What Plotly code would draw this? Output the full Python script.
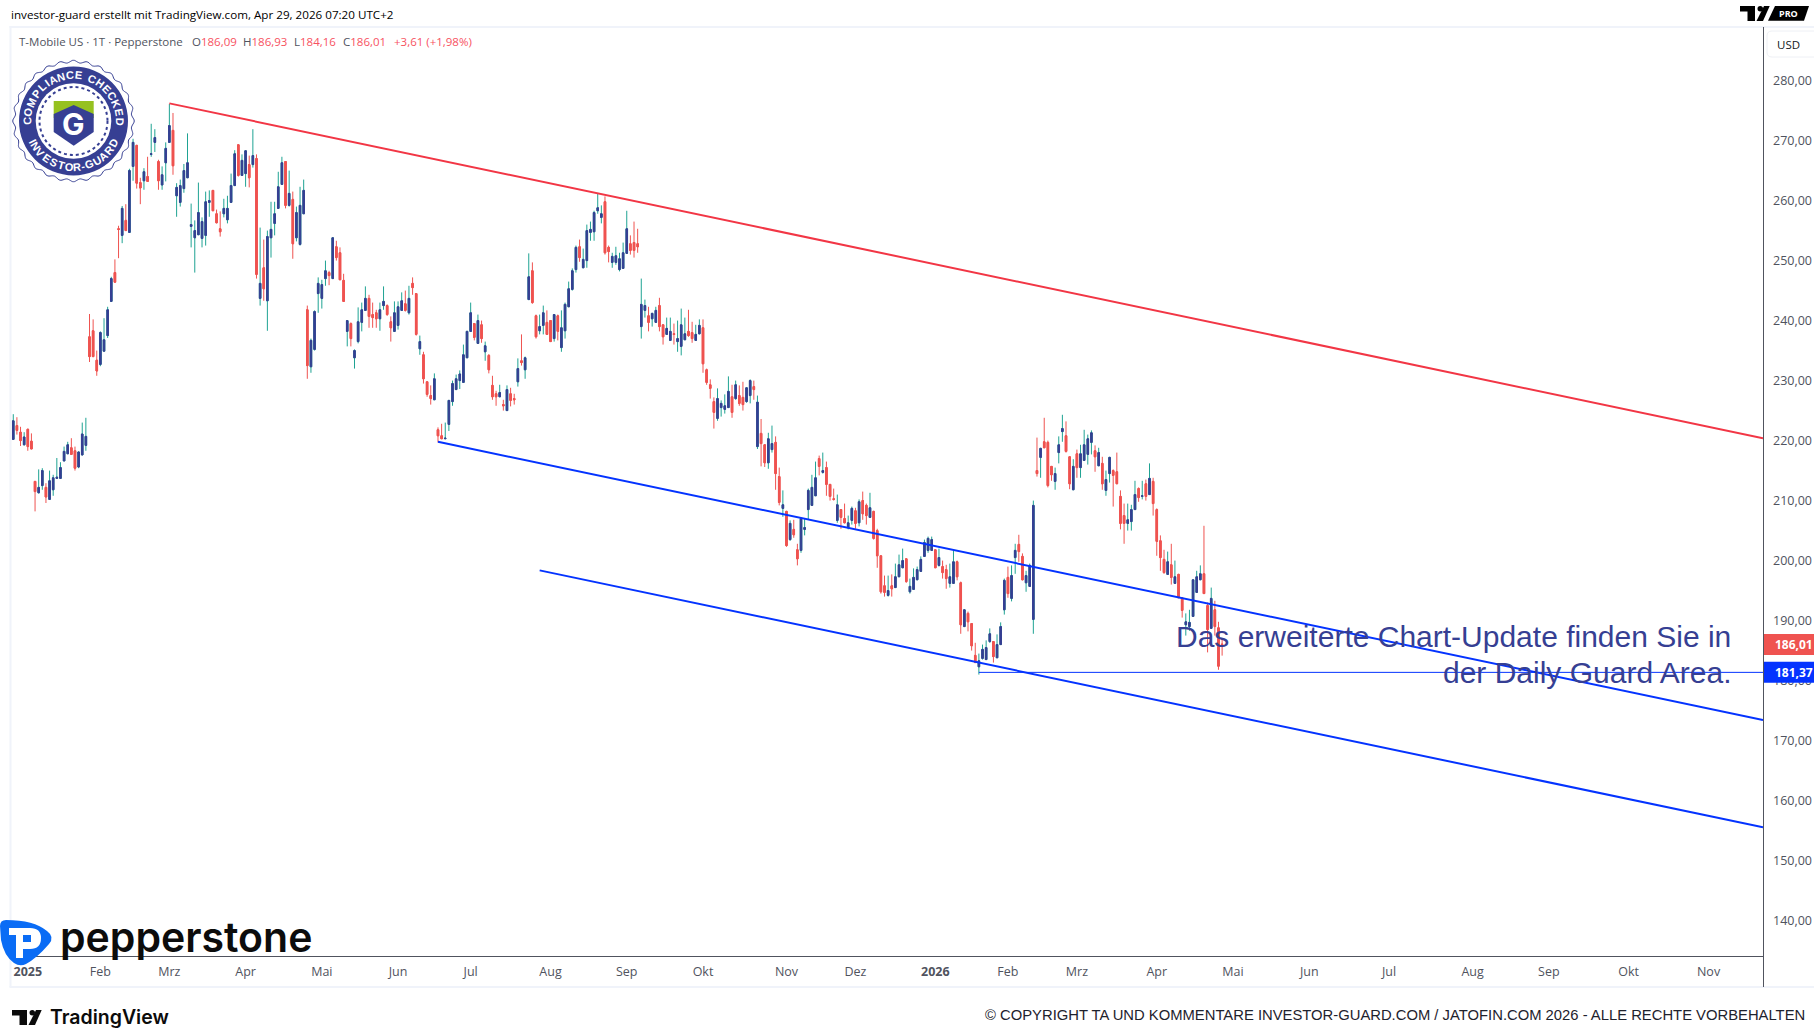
import numpy as np
import plotly.graph_objects as go

# values, bar by bar (T-Mobile US, Pepperstone)
opens = [
    220.2, 222.5, 221.4, 219.3, 221.9, 219.9, 213.2, 211.3, 212.5, 212.2,
    210.2, 211.8, 213.7, 213.7, 216.6, 217.8, 218.8, 218.3, 215.6, 217.6,
    219.2, 237.3, 238.3, 233.4, 232.7, 234.9, 237.5, 243.2, 248.0, 255.3,
    254.2, 256.7, 254.7, 265.7, 269.2, 263.0, 263.3, 264.0, 267.7, 269.7,
    266.5, 262.6, 266.3, 269.7, 271.7, 260.8, 259.7, 262.0, 263.8, 255.7,
    253.8, 254.3, 253.7, 254.2, 259.7, 261.7, 257.8, 255.3, 257.8, 256.8,
    259.7, 262.5, 269.3, 264.2, 264.5, 266.0, 266.0, 267.0, 243.7, 248.8,
    243.3, 253.8, 256.2, 258.7, 262.7, 266.5, 259.2, 260.2, 253.8, 252.7,
    257.8, 241.8, 232.3, 235.2, 244.5, 243.7, 247.0, 248.0, 247.0, 252.3,
    251.3, 246.7, 238.2, 239.5, 233.8, 236.5, 239.7, 241.7, 243.7, 241.0,
    241.3, 240.3, 242.5, 242.5, 239.8, 238.2, 239.2, 241.7, 242.8, 241.3,
    246.2, 244.5, 235.3, 234.3, 229.8, 227.5, 226.8, 221.8, 220.8, 220.3,
    222.7, 226.5, 228.5, 230.0, 229.7, 233.8, 238.2, 239.5, 236.2, 239.3,
    234.8, 234.2, 229.2, 227.8, 227.3, 226.0, 225.0, 227.8, 227.0, 229.8,
    233.3, 231.8, 243.5, 248.3, 240.8, 238.3, 239.2, 239.7, 240.0, 237.0,
    240.8, 235.5, 238.3, 242.3, 245.2, 248.5, 252.3, 248.8, 250.0, 254.7,
    254.8, 258.3, 257.2, 259.8, 252.2, 249.7, 249.7, 248.5, 248.7, 251.2,
    252.8, 253.0, 252.8, 239.0, 241.7, 240.8, 240.3, 239.7, 242.5, 239.3,
    237.7, 236.7, 237.8, 236.5, 235.7, 236.8, 238.2, 238.0, 236.7, 237.8,
    238.8, 231.8, 229.3, 226.5, 223.7, 225.5, 225.2, 225.5, 227.3, 227.0,
    227.5, 227.2, 226.5, 227.5, 229.0, 219.0, 221.2, 219.3, 216.3, 218.5,
    219.7, 214.0, 208.7, 208.2, 203.5, 205.2, 201.8, 201.7, 205.2, 208.5,
    209.2, 210.8, 217.0, 214.7, 215.5, 212.7, 210.3, 206.7, 208.5, 207.0,
    205.5, 206.7, 208.3, 206.3, 210.0, 209.2, 207.2, 208.2, 205.0, 200.8,
    195.8, 194.2, 195.8, 195.5, 197.3, 198.8, 200.3, 194.8, 195.2, 196.8,
    198.2, 200.7, 201.7, 201.7, 201.8, 199.2, 199.0, 198.5, 196.2, 196.2,
    199.8, 196.3, 189.0, 191.2, 189.5, 184.2, 182.3, 183.7, 183.5, 186.5,
    186.5, 183.8, 186.0, 191.8, 197.2, 193.7, 200.5, 202.7, 200.7, 196.3,
    195.7, 190.2, 215.0, 217.2, 219.8, 219.7, 215.7, 213.2, 218.0, 221.5,
    220.8, 217.3, 211.8, 217.8, 215.5, 216.7, 217.7, 219.7, 218.3, 215.8,
    216.2, 211.7, 214.5, 215.0, 214.8, 210.7, 207.5, 206.2, 206.5, 208.5,
    212.0, 210.7, 212.8, 211.0, 213.2, 208.5, 203.3, 200.2, 197.7, 199.3,
    196.2, 197.7, 193.8, 189.3, 189.0, 190.7, 194.7, 196.8, 197.8, 192.5,
    188.7, 191.8, 188.8, 186.09,
]
highs = [
    224.4, 223.9, 222.3, 221.4, 221.9, 221.2, 213.2, 215.2, 215.4, 212.9,
    215.0, 214.3, 217.1, 216.4, 219.0, 219.8, 220.4, 219.0, 218.2, 223.0,
    223.8, 241.1, 240.2, 235.0, 238.2, 240.4, 242.3, 247.3, 250.2, 255.8,
    259.1, 259.4, 265.3, 270.3, 269.3, 263.8, 265.4, 267.3, 272.8, 271.9,
    266.8, 265.7, 269.7, 276.1, 274.6, 262.9, 263.5, 266.1, 271.2, 259.5,
    256.7, 263.0, 257.2, 261.5, 261.7, 261.7, 258.5, 258.2, 260.3, 260.8,
    264.5, 268.4, 269.3, 267.7, 268.3, 267.5, 271.9, 267.7, 255.5, 253.5,
    255.0, 259.8, 259.8, 264.8, 267.3, 266.5, 265.0, 261.5, 259.0, 262.3,
    263.5, 242.5, 237.0, 241.7, 247.2, 246.8, 250.0, 248.3, 253.8, 253.3,
    252.2, 247.8, 240.0, 239.7, 235.2, 242.2, 243.0, 245.7, 244.3, 243.0,
    241.8, 243.0, 245.7, 242.7, 240.7, 243.2, 243.2, 244.7, 245.0, 245.8,
    247.2, 244.5, 237.5, 234.8, 229.8, 229.2, 231.2, 222.2, 222.8, 223.0,
    226.7, 230.0, 231.0, 231.7, 236.0, 238.3, 243.0, 239.5, 241.0, 240.0,
    236.5, 234.4, 230.8, 228.3, 229.3, 226.8, 229.2, 228.8, 227.8, 233.7,
    237.7, 234.0, 251.2, 249.7, 241.0, 241.0, 242.5, 241.7, 240.0, 241.0,
    241.0, 241.7, 243.0, 246.5, 248.7, 252.5, 253.5, 252.0, 256.0, 256.5,
    258.3, 261.2, 259.2, 260.7, 252.5, 251.3, 252.3, 251.3, 253.0, 258.3,
    254.2, 256.5, 255.3, 247.0, 243.5, 242.3, 241.3, 242.3, 243.8, 239.3,
    240.5, 240.5, 239.5, 240.0, 242.0, 240.5, 241.8, 239.8, 239.3, 240.2,
    240.2, 232.0, 230.2, 227.2, 228.7, 226.7, 227.7, 230.7, 229.3, 230.0,
    229.2, 229.8, 228.8, 230.2, 230.0, 227.5, 223.6, 219.3, 221.3, 222.5,
    220.7, 215.5, 211.7, 208.3, 206.7, 206.8, 202.8, 207.2, 207.0, 212.0,
    214.3, 216.5, 217.5, 218.0, 216.5, 212.7, 212.0, 211.0, 208.5, 209.5,
    207.5, 209.0, 208.8, 210.2, 211.5, 209.5, 211.3, 208.3, 205.3, 200.8,
    197.5, 197.5, 197.7, 199.5, 201.0, 202.0, 200.3, 197.0, 198.7, 199.0,
    200.7, 203.5, 204.0, 204.0, 201.8, 202.0, 200.0, 199.3, 199.5, 201.8,
    200.0, 196.5, 191.8, 191.5, 189.5, 186.3, 184.5, 186.0, 186.7, 188.7,
    186.5, 187.7, 189.7, 197.0, 199.0, 199.2, 202.8, 204.3, 201.2, 198.3,
    199.5, 210.0, 220.5, 218.8, 223.8, 220.0, 215.7, 215.5, 220.7, 224.3,
    223.2, 217.3, 216.9, 218.5, 219.3, 221.8, 221.0, 221.7, 219.2, 218.8,
    217.3, 215.0, 217.3, 215.2, 218.0, 211.7, 209.5, 209.5, 209.3, 213.3,
    212.2, 213.3, 213.5, 216.2, 213.8, 208.7, 204.2, 201.8, 201.5, 202.8,
    200.0, 197.8, 193.8, 191.2, 191.8, 196.8, 198.3, 199.2, 205.8, 193.0,
    195.5, 193.3, 189.8, 186.93,
]
lows = [
    220.2, 221.0, 219.1, 219.2, 218.3, 218.6, 208.2, 211.2, 211.8, 209.6,
    210.2, 210.8, 213.7, 213.7, 216.6, 217.8, 217.7, 215.0, 215.4, 217.6,
    218.3, 233.1, 233.9, 230.8, 232.4, 234.9, 237.1, 243.1, 246.4, 250.4,
    252.9, 255.0, 254.7, 263.3, 262.0, 259.4, 261.8, 263.1, 267.3, 268.1,
    261.8, 261.8, 263.2, 269.7, 264.3, 257.3, 259.0, 261.3, 263.8, 252.2,
    248.0, 254.3, 252.2, 252.5, 257.3, 258.3, 256.2, 254.0, 257.2, 256.2,
    259.7, 262.5, 264.0, 264.2, 262.3, 262.2, 265.5, 247.0, 242.5, 243.3,
    238.3, 250.5, 254.2, 258.7, 262.7, 258.7, 259.0, 250.3, 253.2, 252.5,
    257.8, 230.3, 231.3, 235.0, 241.3, 242.0, 245.8, 245.9, 247.0, 250.0,
    246.8, 243.2, 235.7, 235.7, 232.0, 236.2, 238.2, 241.7, 238.8, 238.8,
    238.8, 238.3, 241.8, 240.8, 236.5, 238.2, 238.5, 241.7, 241.5, 241.0,
    244.3, 237.5, 234.3, 229.5, 227.3, 226.0, 226.8, 219.7, 220.3, 220.3,
    221.6, 225.8, 228.5, 228.6, 229.7, 233.8, 238.2, 236.7, 236.2, 236.3,
    233.3, 231.2, 226.8, 225.8, 227.3, 225.0, 225.0, 225.7, 226.0, 229.0,
    232.5, 230.3, 243.5, 242.8, 237.0, 237.7, 237.7, 237.7, 236.5, 236.5,
    236.7, 234.8, 237.0, 242.3, 245.0, 248.0, 249.8, 248.8, 248.8, 253.3,
    253.3, 257.8, 256.2, 251.0, 249.7, 248.8, 249.3, 248.2, 248.7, 251.2,
    251.0, 250.5, 251.3, 237.0, 240.5, 238.2, 239.0, 239.7, 238.2, 236.0,
    237.7, 236.7, 236.0, 234.8, 234.2, 236.8, 237.3, 236.3, 236.7, 237.7,
    231.3, 229.3, 227.0, 222.0, 223.3, 224.0, 224.5, 225.5, 223.8, 226.8,
    225.8, 225.0, 226.3, 226.2, 226.8, 218.6, 215.7, 215.6, 215.3, 218.0,
    211.8, 209.2, 207.3, 202.3, 203.3, 203.8, 199.2, 201.3, 204.2, 206.8,
    209.2, 210.8, 214.2, 214.5, 210.8, 210.0, 210.0, 206.3, 205.3, 206.2,
    205.2, 206.0, 205.3, 205.7, 206.8, 206.0, 207.2, 203.5, 198.8, 194.5,
    194.0, 194.0, 194.0, 195.5, 197.3, 198.8, 196.3, 194.5, 195.2, 196.8,
    198.2, 200.7, 201.3, 201.7, 198.8, 199.0, 197.0, 195.3, 195.5, 196.2,
    196.7, 187.8, 189.0, 188.2, 185.0, 183.0, 181.0, 183.5, 183.5, 186.3,
    183.0, 183.8, 186.0, 191.0, 193.8, 193.2, 197.8, 199.8, 196.7, 194.8,
    195.7, 187.8, 214.0, 213.8, 218.8, 212.2, 213.3, 211.8, 216.2, 219.8,
    218.0, 211.9, 211.8, 213.8, 213.8, 216.7, 216.0, 217.7, 214.8, 215.8,
    211.8, 210.8, 213.0, 209.0, 212.8, 205.2, 202.8, 205.0, 205.0, 208.5,
    209.8, 210.2, 210.0, 211.0, 207.5, 200.8, 198.3, 197.8, 197.7, 196.0,
    196.2, 193.8, 190.5, 187.5, 188.3, 190.7, 194.7, 196.8, 194.5, 184.7,
    188.7, 187.5, 181.8, 184.16,
]
closes = [
    223.3, 221.7, 220.0, 220.6, 219.0, 218.6, 211.5, 212.2, 215.0, 210.6,
    213.3, 213.8, 213.9, 215.5, 218.2, 219.3, 217.7, 215.4, 218.1, 221.1,
    220.7, 234.0, 234.0, 231.6, 238.0, 236.8, 241.8, 247.0, 246.4, 255.2,
    258.7, 255.0, 265.0, 269.7, 262.9, 262.1, 264.8, 263.2, 267.8, 270.5,
    263.3, 264.3, 268.7, 272.5, 265.8, 262.2, 262.5, 265.0, 266.3, 256.0,
    255.0, 258.0, 256.5, 259.8, 260.0, 258.3, 256.3, 254.8, 258.7, 258.7,
    262.5, 267.8, 264.2, 266.7, 268.3, 263.8, 267.5, 247.7, 246.2, 245.3,
    254.0, 255.2, 257.8, 262.3, 266.3, 259.2, 261.2, 252.8, 258.0, 259.2,
    261.7, 232.5, 236.7, 241.5, 246.2, 246.0, 248.3, 247.5, 253.8, 250.5,
    246.8, 243.2, 240.0, 237.0, 235.0, 239.8, 241.8, 243.7, 240.7, 240.5,
    240.3, 241.8, 243.2, 241.0, 238.8, 241.3, 242.3, 243.3, 241.7, 243.7,
    245.5, 237.7, 236.5, 230.3, 227.7, 227.0, 230.3, 220.8, 220.3, 220.4,
    226.7, 229.5, 230.3, 231.1, 234.3, 238.2, 241.3, 237.2, 240.0, 237.0,
    235.8, 231.8, 227.3, 227.3, 228.0, 225.8, 228.5, 226.7, 226.8, 232.0,
    233.0, 233.8, 247.3, 243.0, 237.3, 239.0, 241.3, 237.7, 236.5, 241.0,
    238.2, 238.8, 242.7, 245.3, 248.3, 252.2, 250.5, 250.2, 255.0, 255.2,
    258.0, 258.8, 257.8, 251.3, 251.5, 250.7, 250.8, 250.3, 251.3, 255.3,
    251.7, 251.7, 252.3, 242.7, 242.5, 239.7, 241.2, 241.7, 239.0, 237.3,
    238.7, 238.2, 237.7, 237.0, 239.3, 237.8, 237.5, 237.0, 237.7, 239.2,
    232.8, 229.7, 228.7, 224.7, 227.0, 226.2, 225.8, 228.2, 224.7, 229.3,
    226.2, 226.0, 228.8, 230.0, 228.5, 226.4, 219.5, 216.3, 220.3, 219.5,
    214.5, 209.7, 209.3, 202.5, 206.2, 204.3, 200.3, 207.0, 205.5, 211.7,
    212.2, 213.8, 215.7, 215.0, 212.7, 210.7, 210.2, 209.3, 207.2, 206.3,
    206.3, 208.7, 206.2, 209.8, 207.8, 207.5, 208.8, 203.7, 200.8, 194.8,
    194.7, 195.0, 195.3, 197.3, 199.3, 200.0, 196.5, 195.7, 197.2, 198.5,
    200.2, 203.0, 203.7, 203.5, 198.8, 200.5, 198.0, 197.0, 197.3, 199.8,
    197.3, 189.3, 191.8, 189.8, 185.8, 183.0, 183.3, 185.2, 185.5, 187.8,
    184.0, 186.0, 189.0, 196.7, 194.5, 197.5, 201.7, 201.5, 196.8, 197.5,
    199.2, 209.2, 214.5, 218.7, 218.8, 212.5, 214.3, 214.5, 219.3, 222.0,
    218.2, 212.8, 215.7, 215.5, 217.8, 219.3, 220.3, 221.3, 217.3, 218.0,
    212.8, 213.5, 217.2, 214.2, 212.8, 206.2, 206.2, 206.8, 208.5, 211.0,
    210.5, 210.8, 210.7, 213.7, 209.5, 203.2, 200.5, 198.0, 199.8, 197.2,
    197.3, 193.8, 191.7, 189.8, 189.7, 196.8, 197.3, 197.8, 194.5, 188.5,
    193.7, 189.0, 182.40, 186.01,
]
bars = list(range(len(closes)))

# month labels sit on the bar number where the month starts
month_bars = [4, 24, 43, 64, 85, 106, 126, 148, 169, 190, 213, 232, 254, 274, 293, 315, 336, 357, 379, 402, 423, 445, 467]
month_labels = ["<b>2025</b>", "Feb", "Mrz", "Apr", "Mai", "Jun", "Jul", "Aug", "Sep", "Okt", "Nov", "Dez",
                "<b>2026</b>", "Feb", "Mrz", "Apr", "Mai", "Jun", "Jul", "Aug", "Sep", "Okt", "Nov"]
price_ticks = [140, 150, 160, 170, 180, 190, 200, 210, 220, 230, 240, 250, 260, 270, 280]

# trend lines
red_line_bars = [43, 482]
red_line_prices = [276.2, 220.4]
upper_blue_bars = [117, 482]
upper_blue_prices = [219.8, 173.43]
lower_blue_bars = [145, 482]
lower_blue_prices = [198.37, 155.55]
level_bars = [266, 482]
level_prices = [181.37, 181.37]
last_price = 186.01
level_price = 181.37

W, H = 1814, 1035
UI_FONT = "Open Sans"
NAVY = "#363f93"
TEAL = "#1fa393"
RED = "#ef5350"
BLUE = "#0433ff"
GREY = "#50535e"
STRIP = "#f0f3fa"

fig = go.Figure()

# wicks first, bodies on top so the up bars keep a navy body with a teal wick
fig.add_trace(go.Candlestick(
    x=bars, open=opens, high=highs, low=lows, close=closes, hoverinfo="skip",
    increasing=dict(line=dict(color=TEAL, width=1), fillcolor=TEAL),
    decreasing=dict(line=dict(color=RED, width=1), fillcolor=RED),
))
fig.add_trace(go.Candlestick(
    x=bars, open=opens, close=closes, hoverinfo="skip",
    high=np.maximum(opens, closes), low=np.minimum(opens, closes),
    increasing=dict(line=dict(color=NAVY, width=1), fillcolor=NAVY),
    decreasing=dict(line=dict(color=RED, width=1), fillcolor=RED),
))

for xs, ys, color, width in [
    (red_line_bars, red_line_prices, "#f23645", 2),
    (upper_blue_bars, upper_blue_prices, BLUE, 2),
    (lower_blue_bars, lower_blue_prices, BLUE, 2),
    (level_bars, level_prices, BLUE, 1),
]:
    fig.add_trace(go.Scatter(x=xs, y=ys, mode="lines", line=dict(color=color, width=width), hoverinfo="skip"))

# empty trace so the page wide pixel axes exist, logos and texts are placed on them
fig.add_trace(go.Scatter(x=[0], y=[0], xaxis="x2", yaxis="y2", mode="none", hoverinfo="skip"))

shapes = []
annotations = []


def px_shape(**kw):
    shapes.append(dict(xref="x2", yref="y2", layer="above", **kw))


def px_text(x, y, text, size=12, color="#131722", family=UI_FONT, anchor="left", angle=0, weight=None):
    annotations.append(dict(
        xref="x2", yref="y2", x=x, y=y, text=text, showarrow=False, xanchor=anchor, yanchor="middle",
        textangle=angle, borderpad=0,
        font=dict(size=size, color=color, family=family, **({"weight": weight} if weight else {})),
    ))


def tv_logo(x0, y0, s, color="#000000"):
    px_shape(type="path", fillcolor=color, line_width=0,
             path=f"M{x0} {y0} H{x0+15*s} V{y0+15*s} H{x0+7.5*s} V{y0+5.5*s} H{x0} Z")
    px_shape(type="circle", fillcolor=color, line_width=0,
             x0=x0+17.5*s, x1=x0+23*s, y0=y0, y1=y0+5.5*s)
    px_shape(type="path", fillcolor=color, line_width=0,
             path=f"M{x0+24*s} {y0} H{x0+29.7*s} L{x0+23*s} {y0+15*s} H{x0+16.5*s} Z")


def arc_angles(word, span):
    # spread the letters by rough width so narrow ones do not leave holes
    widths = np.array([{"I": 0.45, " ": 0.55, "-": 0.55, "M": 1.25}.get(ch, 1.0) for ch in word])
    centers = np.cumsum(widths) - widths / 2
    return (centers / widths.sum() - 0.5) * span


# frame around the chart
px_shape(type="rect", x0=9.5, x1=1814, y0=26, y1=28, fillcolor=STRIP, line_width=0)
px_shape(type="rect", x0=9.5, x1=11.5, y0=26, y1=987, fillcolor=STRIP, line_width=0)
px_shape(type="rect", x0=9.5, x1=1814, y0=986, y1=988, fillcolor=STRIP, line_width=0)
px_shape(type="line", x0=1763.5, x1=1763.5, y0=27, y1=987, line=dict(color=GREY, width=1))

# header
px_text(10, 14.5, "investor-guard erstellt mit TradingView.com, Apr 29, 2026 07:20 UTC+2", size=11.65, color="#000000")
tv_logo(1740, 6, 1)
px_shape(type="path", fillcolor="#000000", line_width=0, path="M1775 6 H1809 L1804 20.7 H1768 Z")
px_text(1788, 13.5, "<b>PRO</b>", size=9, color="#ffffff", anchor="center")

# ohlc legend line
legend_red = "#f7525f"
px_text(17.5, 41, "T-Mobile US · 1T · Pepperstone", size=11.5, color=GREY)
for x, letter, value in [(191, "O", "186,09"), (242, "H", "186,93"), (293, "L", "184,16"), (342, "C", "186,01")]:
    px_text(x, 41, f'{letter}<span style="color:{legend_red}">{value}</span>', size=11.5, color=GREY)
px_text(393, 41, "+3,61 (+1,98%)", size=11.5, color=legend_red)

# USD box
px_shape(type="path", path="M1814 31 H1772 Q1767 31 1767 36 V52 Q1767 57 1772 57 H1814",
         line=dict(color="#eef0f5", width=1))
px_text(1776, 44, "USD", size=11.5)

# last price and level tags on the price scale
for price, color, text in [(last_price, RED, "186,01"), (level_price, BLUE, "181,37")]:
    shapes.append(dict(type="rect", xref="x2", yref="y", x0=1764, x1=1814, y0=price - 1.75, y1=price + 1.75,
                       fillcolor=color, line_width=0, layer="above"))
    annotations.append(dict(xref="x2", yref="y", x=1772.5, y=price, text=f"<b>{text}</b>", showarrow=False,
                            xanchor="left", yanchor="middle", font=dict(size=12, color="#ffffff", family=UI_FONT)))

# comment text
px_text(1732, 636.5, "Das erweiterte Chart-Update finden Sie in", size=30, color=NAVY, family="Liberation Sans", anchor="right")
px_text(1732, 672, "der Daily Guard Area.", size=30, color=NAVY, family="Liberation Sans", anchor="right")

# compliance badge
cx, cy = 73.5, 121
theta = np.linspace(0, 2 * np.pi, 361)
radius = 59.5 + 1.2 * np.cos(28 * theta)
badge_path = "M" + " L".join(f"{cx + r * np.sin(t):.1f} {cy - r * np.cos(t):.1f}" for r, t in zip(radius, theta)) + " Z"
px_shape(type="path", path=badge_path, fillcolor="#ffffff", line=dict(color=NAVY, width=1))
px_shape(type="circle", x0=cx-54.5, x1=cx+54.5, y0=cy-54.5, y1=cy+54.5, fillcolor=NAVY, line_width=0)
px_shape(type="circle", x0=cx-37.8, x1=cx+37.8, y0=cy-37.8, y1=cy+37.8, fillcolor="#ffffff", line_width=0)
px_shape(type="circle", x0=cx-34, x1=cx+34, y0=cy-34, y1=cy+34, line=dict(color=NAVY, width=2, dash="dot"))
px_shape(type="path", path="M53.7 101 H93.7 V118 H53.7 Z", fillcolor="#96c11f", line_width=0)
px_shape(type="path", path="M53.7 114 L73.7 105 L93.7 114 V132 L73.7 145.7 L53.7 132 Z", fillcolor=NAVY, line_width=0)
px_text(73.7, 124, "<b>G</b>", size=30, color="#ffffff", family="Inter", anchor="center")
top_word = "COMPLIANCE CHECKED"
for ch, deg in zip(top_word, arc_angles(top_word, 192)):
    t = np.radians(deg)
    px_text(cx + 46 * np.sin(t), cy - 46 * np.cos(t), f"<b>{ch}</b>", size=11, color="#ffffff",
            family="Liberation Sans", anchor="center", angle=float(deg))
bottom_word = "INVESTOR-GUARD"
for ch, deg in zip(bottom_word, arc_angles(bottom_word, 132)):
    t = np.radians(deg)
    px_text(cx + 46 * np.sin(t), cy + 46 * np.cos(t), f"<b>{ch}</b>", size=11, color="#ffffff",
            family="Liberation Sans", anchor="center", angle=float(-deg))

# pepperstone logo
px_shape(type="path", fillcolor="#0a6cf5", line_width=0,
         path="M0 926 Q0 920 6 920 Q34 920 47 931 Q55 937 49 944 Q37 958 26 964 Q20 967 14 963 Q4 956 1 940 Z")
px_shape(type="path", fillcolor="#ffffff", line_width=0,
         path="M9 928 H30 Q41 928 41 938 Q41 949 30 949 H23 V958 H16 V935 H9 Z")
px_shape(type="rect", x0=23, x1=31, y0=935, y1=942, fillcolor="#0a6cf5", line_width=0)
px_text(59, 937, "pepperstone", size=41, color="#0c0c0c", family="Inter", weight=600)

# footer
tv_logo(12, 1010, 1, color="#0b0b0b")
px_text(49, 1017, "TradingView", size=19.5, color="#0b0b0b", family="Inter", weight=600)
px_text(1806, 1015, "© COPYRIGHT TA UND KOMMENTARE INVESTOR-GUARD.COM / JATOFIN.COM 2026 - ALLE RECHTE VORBEHALTEN",
        size=14.8, color="#1e222d", family="Liberation Sans", anchor="right")

fig.update_layout(
    width=W, height=H, autosize=False, showlegend=False,
    margin=dict(l=0, r=0, t=0, b=0),
    paper_bgcolor="#ffffff", plot_bgcolor="rgba(0,0,0,0)",
    separators=",.", boxgap=0.38,
    shapes=shapes, annotations=annotations,
    xaxis=dict(
        domain=[10 / W, 1763 / W], range=[-0.9, 482], rangeslider=dict(visible=False),
        tickmode="array", tickvals=month_bars, ticktext=month_labels,
        tickfont=dict(family=UI_FONT, size=12.5, color=GREY),
        showgrid=False, zeroline=False, showline=True, linecolor=GREY, linewidth=1, ticks="", ticklabelstandoff=4,
    ),
    yaxis=dict(
        domain=[1 - 956 / H, 1 - 27 / H], range=[134.1, 288.93], side="right",
        tickmode="array", tickvals=price_ticks, tickformat=".2f",
        tickfont=dict(family=UI_FONT, size=12.5, color=GREY), ticklabeloverflow="allow",
        showgrid=False, zeroline=False, showline=False, ticks="", ticklabelstandoff=9,
    ),
    xaxis2=dict(domain=[0, 1], range=[0, W], visible=False, anchor="y2"),
    yaxis2=dict(domain=[0, 1], range=[H, 0], visible=False, anchor="x2"),
)

fig.write_html("out.html", post_script="document.body.style.margin='0';", config=dict(displayModeBar=False))
